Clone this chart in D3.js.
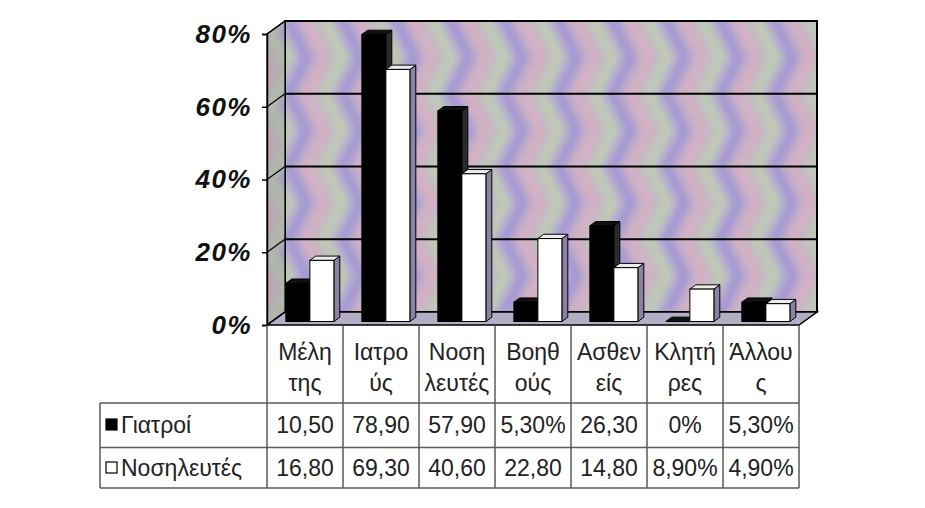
<!DOCTYPE html>
<html lang="el">
<head>
<meta charset="UTF-8">
<title>Γιατροί - Νοσηλευτές</title>
<style>
  html, body { margin: 0; padding: 0; background: #fff; }
  svg { display: block; }
</style>
</head>
<body>
<div id="chart" style="width: 925px;height: 508px;"></div>

<script src="https://cdn.jsdelivr.net/npm/d3@7/dist/d3.min.js"></script>
<script>
// data
var categories = ["Μέλη της", "Ιατρούς", "Νοσηλευτές", "Βοηθούς", "Ασθενείς", "Κλητήρες", "Άλλους"];
var categoryLines = [["Μέλη", "της"], ["Ιατρο", "ύς"], ["Νοση", "λευτές"], ["Βοηθ", "ούς"],
                     ["Ασθεν", "είς"], ["Κλητή", "ρες"], ["Άλλου", "ς"]];
var series = ["Γιατροί", "Νοσηλευτές"];
var giatroi = [10.5, 78.9, 57.9, 5.3, 26.3, 0, 5.3];
var nosileutes = [16.8, 69.3, 40.6, 22.8, 14.8, 8.9, 4.9];
var giatroiText = ["10,50", "78,90", "57,90", "5,30%", "26,30", "0%", "5,30%"];
var nosileutesText = ["16,80", "69,30", "40,60", "22,80", "14,80", "8,90%", "4,90%"];
var yTicks = [0, 20, 40, 60, 80];

var width = 925, height = 508;
var plotLeft = 267, plotRight = 799, plotTop = 34, plotBottom = 325;
var DX = 18, DY = -13;          // depth of the 3d box
var z0 = 0.27, z1 = 0.6;        // bars sit in the middle of the depth
var tableLeft = 100, rowLines = [403, 447.5, 488];

var svg = d3.select("#chart").append("svg")
    .attr("width", width)
    .attr("height", height);

var x = d3.scaleBand().domain(categories).range([plotLeft, plotRight]).padding(0);
var xs = d3.scaleBand().domain(series).range([0, x.bandwidth()])
    .paddingInner(0).paddingOuter(0.583);
var y = d3.scaleLinear().domain([0, 80]).range([plotBottom, plotTop]);

// moire-ish wall fill: soft ">" chevrons
var defs = svg.append("defs");
defs.append("filter").attr("id", "soft")
    .attr("x", "-20%").attr("y", "-20%").attr("width", "140%").attr("height", "140%")
    .append("feGaussianBlur").attr("stdDeviation", 4.5);
function makePattern(id, base, cols, py) {
    var pw = 54, ph = y(0) - y(20);
    var p = defs.append("pattern")
        .attr("id", id)
        .attr("patternUnits", "userSpaceOnUse")
        .attr("x", plotLeft + DX).attr("y", py)
        .attr("width", pw).attr("height", ph);
    p.append("rect").attr("width", pw).attr("height", ph).attr("fill", base);
    var g = p.append("g").attr("filter", "url(#soft)");
    for (var k = -2; k < 5; k++) {
        var xo = k * 18;
        g.append("path")
            .attr("d", "M" + xo + "," + (-ph * 0.1) + " L" + (xo + 22) + "," + (ph / 2) +
                  " L" + xo + "," + (ph * 1.1))
            .attr("fill", "none")
            .attr("stroke", cols[(k + 6) % 3])
            .attr("stroke-width", 12);
    }
}
makePattern("wall", "#bcb4cc", ["#a597d4", "#d6b0c2", "#c0cbb4"], y(80) + DY);
makePattern("side", "#aca6bc", ["#9a8cc4", "#c4a4b4", "#b0bca6"], y(80));

function pts(a) { return a.map(function (p) { return p.join(","); }).join(" "); }

// back wall
svg.append("polygon")
    .attr("points", pts([[plotLeft + DX, y(80) + DY], [plotRight + DX, y(80) + DY],
                         [plotRight + DX, y(0) + DY], [plotLeft + DX, y(0) + DY]]))
    .attr("fill", "url(#wall)")
    .attr("stroke", "#000").attr("stroke-width", 2);
// side wall
svg.append("polygon")
    .attr("points", pts([[plotLeft, y(80)], [plotLeft + DX, y(80) + DY],
                         [plotLeft + DX, y(0) + DY], [plotLeft, y(0)]]))
    .attr("fill", "url(#side)")
    .attr("stroke", "#000").attr("stroke-width", 1.2);
// floor
svg.append("polygon")
    .attr("points", pts([[plotLeft, y(0)], [plotLeft + DX, y(0) + DY],
                         [plotRight + DX, y(0) + DY], [plotRight, y(0)]]))
    .attr("fill", "#b4aec4")
    .attr("stroke", "#000").attr("stroke-width", 1.5);

// gridlines
var grid = svg.append("g");
grid.selectAll(".gback").data(yTicks.filter(function (d) { return d > 0 && d < 80; }))
    .enter().append("line")
    .attr("x1", plotLeft + DX).attr("x2", plotRight + DX)
    .attr("y1", function (d) { return y(d) + DY; })
    .attr("y2", function (d) { return y(d) + DY; })
    .attr("stroke", "#000").attr("stroke-width", 2);
grid.selectAll(".gside").data(yTicks)
    .enter().append("line")
    .attr("x1", plotLeft).attr("x2", plotLeft + DX)
    .attr("y1", function (d) { return y(d); })
    .attr("y2", function (d) { return y(d) + DY; })
    .attr("stroke", "#000").attr("stroke-width", 1.2);

// bars
var barData = [];
categories.forEach(function (c, i) {
    barData.push({cat: c, s: series[0], v: giatroi[i]});
    barData.push({cat: c, s: series[1], v: nosileutes[i]});
});
var ddx = DX * (z1 - z0), ddy = DY * (z1 - z0);
svg.append("g").selectAll(".bar")
    .data(barData)
    .enter().append("g")
    .attr("class", "bar")
    .each(function (d) {
        var g = d3.select(this);
        var dark = d.s === series[0];
        var x0 = x(d.cat) + xs(d.s) + DX * z0, x1 = x0 + xs.bandwidth();
        var yb = y(0) + DY * z0, yt = y(d.v) + DY * z0;
        g.append("polygon")
            .attr("points", pts([[x1, yt], [x1 + ddx, yt + ddy], [x1 + ddx, yb + ddy], [x1, yb]]))
            .attr("fill", dark ? "#2b2b2b" : "#8a82a2")
            .attr("stroke", "#000").attr("stroke-width", 1);
        g.append("polygon")
            .attr("points", pts([[x0, yt], [x0 + ddx, yt + ddy], [x1 + ddx, yt + ddy], [x1, yt]]))
            .attr("fill", dark ? "#111" : "#ececec")
            .attr("stroke", "#000").attr("stroke-width", 1);
        g.append("rect")
            .attr("x", x0).attr("y", yt)
            .attr("width", x1 - x0).attr("height", yb - yt)
            .attr("fill", dark ? "#000" : "#fff")
            .attr("stroke", "#000").attr("stroke-width", 1);
    });

// y axis
var yAxis = d3.axisLeft(y)
    .tickValues(yTicks)
    .tickSize(5)
    .tickPadding(10)
    .tickFormat(function (d) { return d + "%"; });
var ga = svg.append("g")
    .attr("transform", "translate(" + plotLeft + ",0)")
    .call(yAxis);
ga.select(".domain").attr("stroke", "#000").attr("stroke-width", 1.5);
ga.selectAll(".tick line").attr("stroke", "#000").attr("stroke-width", 1.5);
ga.selectAll(".tick text")
    .attr("fill", "#111")
    .style("font-family", "'Liberation Sans', Arial, sans-serif")
    .style("font-size", "26px")
    .style("letter-spacing", "1.5px")
    .style("font-weight", "bold")
    .style("font-style", "italic");

// data table
var tbl = svg.append("g")
    .style("font-family", "'Liberation Sans', Arial, sans-serif")
    .style("font-size", "23px")
    .attr("fill", "#222");
var lineCol = "#5a5a5a";
var cols = categories.map(function (c) { return x(c); }).concat([plotRight]);
tbl.selectAll(".vl").data(cols).enter().append("line")
    .attr("x1", function (d) { return d; }).attr("x2", function (d) { return d; })
    .attr("y1", plotBottom).attr("y2", rowLines[2])
    .attr("stroke", lineCol).attr("stroke-width", 1.5);
tbl.append("line")
    .attr("x1", tableLeft).attr("x2", tableLeft)
    .attr("y1", rowLines[0]).attr("y2", rowLines[2])
    .attr("stroke", lineCol).attr("stroke-width", 1.5);
tbl.selectAll(".hl").data(rowLines).enter().append("line")
    .attr("x1", tableLeft).attr("x2", plotRight)
    .attr("y1", function (d) { return d; }).attr("y2", function (d) { return d; })
    .attr("stroke", lineCol).attr("stroke-width", 1.5);

categories.forEach(function (c, i) {
    var cx = x(c) + x.bandwidth() / 2;
    categoryLines[i].forEach(function (t, j) {
        tbl.append("text")
            .attr("x", cx).attr("y", 352 + j * 31)
            .attr("dy", "0.35em")
            .attr("text-anchor", "middle")
            .text(t);
    });
    tbl.append("text")
        .attr("x", cx).attr("y", 425).attr("dy", "0.35em")
        .attr("text-anchor", "middle").text(giatroiText[i]);
    tbl.append("text")
        .attr("x", cx).attr("y", 468).attr("dy", "0.35em")
        .attr("text-anchor", "middle").text(nosileutesText[i]);
});

// legend keys in the table
[{s: series[0], y: 425, fill: "#000"}, {s: series[1], y: 468, fill: "#fff"}].forEach(function (d) {
    tbl.append("rect")
        .attr("x", 106).attr("y", d.y - 6)
        .attr("width", 11).attr("height", 11)
        .attr("fill", d.fill)
        .attr("stroke", "#000").attr("stroke-width", 1.2);
    tbl.append("text")
        .attr("x", 121).attr("y", d.y).attr("dy", "0.35em")
        .text(d.s);
});
</script>
</body>
</html>
